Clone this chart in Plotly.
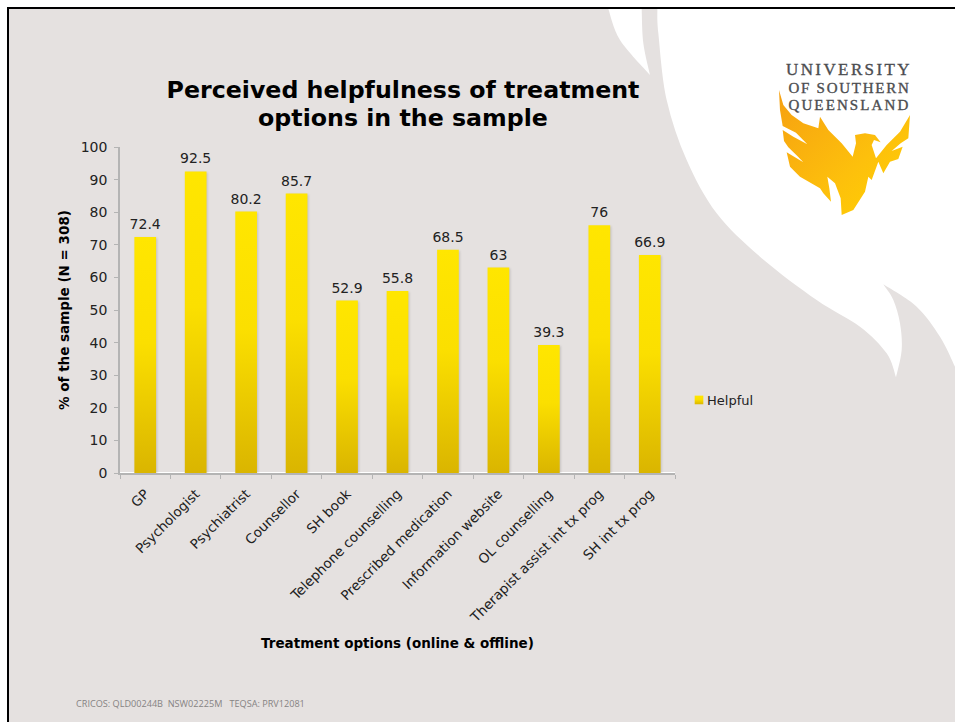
import plotly.graph_objects as go

categories = ["GP", "Psychologist", "Psychiatrist", "Counsellor", "SH book", "Telephone counselling",
              "Prescribed medication", "Information website", "OL counselling",
              "Therapist assist int tx prog", "SH int tx prog"]
helpful = [72.4, 92.5, 80.2, 85.7, 52.9, 55.8, 68.5, 63, 39.3, 76, 66.9]
series_name = "Helpful"
title_text = "Perceived helpfulness of treatment<br>options in the sample"
x_title = "Treatment options (online & offline)"
y_title = "% of the sample (N = 308)"
footer = "CRICOS: QLD00244B  NSW02225M   TEQSA: PRV12081"

W, H = 955, 722
GREY = "#E5E1E0"
FONT = "DejaVu Sans, Verdana, sans-serif"

def px(x): return x / W
def py(y): return 1 - y / H

def smooth(pts):
    d = f"M{px(pts[0][0]):.5f},{py(pts[0][1]):.5f}"
    n = len(pts)
    for i in range(n - 1):
        p0 = pts[max(i - 1, 0)]; p1 = pts[i]; p2 = pts[i + 1]; p3 = pts[min(i + 2, n - 1)]
        c1 = (p1[0] + (p2[0] - p0[0]) / 6, p1[1] + (p2[1] - p0[1]) / 6)
        c2 = (p2[0] - (p3[0] - p1[0]) / 6, p2[1] - (p3[1] - p1[1]) / 6)
        d += (f"C{px(c1[0]):.5f},{py(c1[1]):.5f} {px(c2[0]):.5f},{py(c2[1]):.5f} "
              f"{px(p2[0]):.5f},{py(p2[1]):.5f}")
    return d

def poly(pts):
    return "M" + "L".join(f"{px(x):.5f},{py(y):.5f}" for x, y in pts) + "Z"

def z(pts):
    return [(600 + a / 3, b / 3) for a, b in pts]

def z2(pts):
    return [(770 + a / 3, 55 + b / 3) for a, b in pts]

edge = z([(172, 27), (175, 100), (200, 300), (260, 480), (350, 640), (480, 770), (650, 900), (780, 980), (860, 1060), (888, 1132)])
flame = z([(888, 1132), (905, 1050), (900, 970), (880, 900), (850, 853)])
outer = z([(850, 853), (950, 920), (1020, 1010), (1065, 1100)])
swoosh = (smooth(edge) + smooth(flame).replace("M", "L", 1) + smooth(outer).replace("M", "L", 1)
          + f"L{px(955):.5f},{py(9):.5f}Z")
sliver = (smooth(z([(25, 27), (60, 120), (150, 225)]))
          + smooth(z([(150, 225), (130, 130), (125, 27)])).replace("M", "L", 1) + "Z")
phoenix = poly(z2([(27, 105), (40, 150), (65, 180), (100, 205), (145, 220), (150, 185), (175, 225), (215, 265),
                   (248, 305), (258, 265), (255, 240), (285, 235), (315, 240), (332, 262), (312, 255), (305, 270),
                   (318, 310), (350, 270), (390, 230), (420, 180), (415, 250), (392, 265), (365, 288), (398, 275),
                   (385, 312), (360, 320), (340, 355), (325, 320), (305, 375), (295, 365), (285, 410), (250, 465),
                   (215, 480), (212, 430), (195, 385), (172, 365), (178, 400), (183, 440), (160, 415), (150, 400),
                   (90, 365), (60, 335), (50, 292), (100, 322), (82, 303), (55, 277), (42, 258), (38, 225), (70, 245),
                   (112, 268), (78, 233), (38, 213), (30, 165)]))

shapes = [
    dict(type="rect", xref="paper", yref="paper", x0=px(8), x1=1, y0=0, y1=py(8), fillcolor=GREY, line_width=0, layer="below"),
    dict(type="path", xref="paper", yref="paper", path=swoosh, fillcolor="white", line_width=0, layer="below"),
    dict(type="path", xref="paper", yref="paper", path=sliver, fillcolor="white", line_width=0, layer="below"),
    dict(type="path", xref="paper", yref="paper", path=phoenix, fillcolor="rgb(253,190,10)", line_width=0, layer="below"),
    dict(type="line", xref="paper", yref="paper", x0=px(7), x1=1, y0=py(8), y1=py(8), line=dict(color="black", width=2), layer="below"),
    dict(type="line", xref="paper", yref="paper", x0=px(8), x1=px(8), y0=py(7), y1=0, line=dict(color="black", width=2), layer="below"),
]

logo_lines = [("UNIVERSITY", 849, 70, 17), ("OF SOUTHERN", 849, 88, 15), ("QUEENSLAND", 849, 105, 15)]
annotations = [
    dict(text=t, x=px(x), y=py(y), xref="paper", yref="paper", showarrow=False, xanchor="center", yanchor="middle",
         font=dict(family="Liberation Serif, serif", size=s, color="#4c4d50"))
    for t, x, y, s in logo_lines
]
annotations.append(dict(text=footer, x=px(74), y=py(703), xref="paper", yref="paper", showarrow=False,
                        xanchor="left", yanchor="middle", font=dict(family="Open Sans, sans-serif", size=9.15, color="#858383")))

fig = go.Figure(go.Bar(
    x=categories, y=helpful, name=series_name, text=[str(v) for v in helpful],
    textposition="outside", cliponaxis=False, constraintext="none", textfont=dict(size=14, color="#222", family=FONT),
    marker=dict(color="#F2D500", line_width=0), showlegend=True,
))
fig.update_layout(
    width=W, height=H, margin=dict(l=0, r=0, t=0, b=0), paper_bgcolor="white", plot_bgcolor="rgba(0,0,0,0)",
    font=dict(family=FONT, color="#222"), bargap=0.57, shapes=shapes, annotations=annotations,
    title=dict(text="<b>" + title_text.replace("<br>", "</b><br><b>") + "</b>", x=px(403), xanchor="center", y=py(98), yanchor="middle",
               font=dict(family=FONT, size=23.7, color="black")),
    legend=dict(x=px(692), y=py(400), xanchor="left", yanchor="middle", bgcolor="rgba(0,0,0,0)",
                font=dict(size=13, color="#222", family=FONT), itemwidth=30),
    xaxis=dict(domain=[px(120), px(675)], tickangle=-45, showgrid=False, showline=True, linecolor="#b4b4b4", linewidth=1.5,
               ticks="outside", tickson="boundaries", tickcolor="#b4b4b4", ticklen=4, ticklabelstandoff=6, tickfont=dict(size=13.5, color="#222"),
               title=dict(text="<b>" + x_title + "</b>", font=dict(size=13.5, color="black"), standoff=14), automargin=False),
    yaxis=dict(domain=[py(473), py(147)], range=[0, 100], dtick=10, showgrid=False, showline=True, linecolor="#b4b4b4", linewidth=1.5,
               ticks="outside", tickcolor="#b4b4b4", ticklen=4, ticklabelstandoff=4, tickfont=dict(size=14, color="#222"),
               title=dict(text="<b>" + y_title + "</b>", font=dict(size=13.5, color="black"), standoff=8), automargin=False),
)

post = """
document.body.style.margin='0';document.body.style.overflow='hidden';
var gd=document.getElementById('{plot_id}');
var ns='http://www.w3.org/2000/svg';
function grad(svg,id,x2,y2,stops){
  var defs=svg.querySelector('defs');
  if(!defs){defs=document.createElementNS(ns,'defs');svg.insertBefore(defs,svg.firstChild);}
  var g=document.createElementNS(ns,'linearGradient');g.setAttribute('id',id);
  g.setAttribute('x1','0');g.setAttribute('y1','0');g.setAttribute('x2',x2);g.setAttribute('y2',y2);
  stops.forEach(function(s){var e=document.createElementNS(ns,'stop');e.setAttribute('offset',s[0]);e.setAttribute('stop-color',s[1]);g.appendChild(e);});
  defs.appendChild(g);
}
gd.querySelectorAll('.main-svg').forEach(function(svg,i){
  grad(svg,'barGrad'+i,'0','1',[['0','#FFE600'],['0.45','#FBDF00'],['1','#DAB500']]);
  grad(svg,'logoGrad'+i,'1','1',[['0','#F6A011'],['0.6','#FDC00C'],['1','#FFD200']]);
  svg.querySelectorAll('.bars .point path').forEach(function(p){p.style.fill='url(#barGrad'+i+')';p.style.filter='drop-shadow(1px 1px 1px rgba(0,0,0,0.15))';});
  svg.querySelectorAll('.bars .point text').forEach(function(t){t.setAttribute('transform','translate(0,-2) '+(t.getAttribute('transform')||''));});
  svg.querySelectorAll('.legendpoints path').forEach(function(p){p.style.fill='url(#barGrad'+i+')';p.setAttribute('transform','translate(7,0) scale(0.72)');});
  svg.querySelectorAll('.legendtext').forEach(function(t){t.setAttribute('x',parseFloat(t.getAttribute('x'))-25);});
  svg.querySelectorAll('.shapelayer path').forEach(function(p){if((p.style.fill||'').indexOf('253, 190, 10')>=0){p.style.fill='url(#logoGrad'+i+')';}});
  svg.querySelectorAll('.annotation-text').forEach(function(t){
    var s=t.textContent, ls=null;
    if(s==='UNIVERSITY'){ls='2.4px';}
    if(s==='OF SOUTHERN'){ls='1.75px';}
    if(s==='QUEENSLAND'){ls='2.1px';}
    if(ls){t.style.letterSpacing=ls;t.style.stroke='#4c4d50';t.style.strokeWidth='0.35px';}
  });
  svg.querySelectorAll('.gtitle tspan.line').forEach(function(l,k){if(k>0){l.setAttribute('dy','1.18em');}});
});
"""
fig.write_html("out.html", post_script=post, config={"displayModeBar": False})
